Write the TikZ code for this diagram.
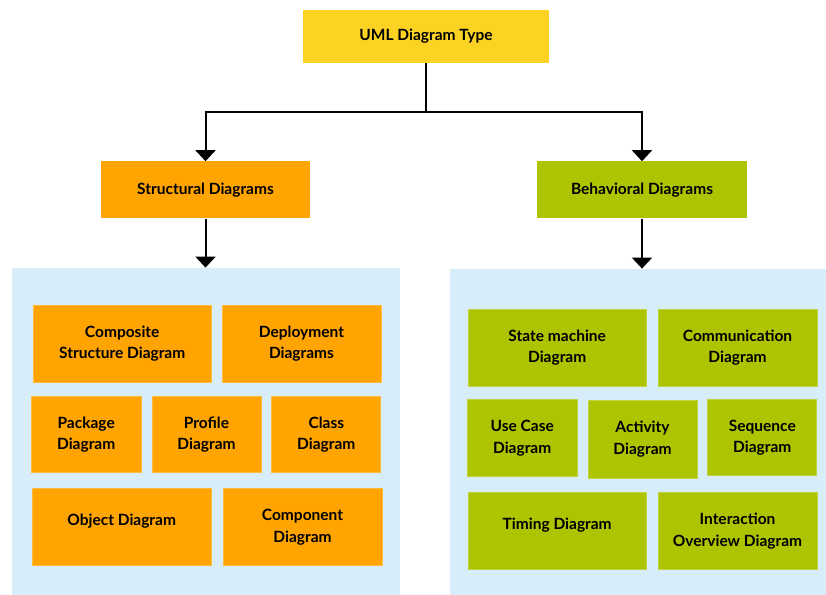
\documentclass[tikz,border=0pt]{standalone}
\usepackage{fontspec}
\setmainfont{Lato}
\usepackage{tikz}
\usetikzlibrary{positioning, arrows.meta}
\definecolor{tikzYellow}{HTML}{FCD322}
\definecolor{tikzOrange}{HTML}{FFA400}
\definecolor{tikzLime}{HTML}{AEC400}
\definecolor{tikzPaleBlue}{HTML}{D7EDF9}
\tikzstyle{diagbox} =[align=center, inner sep=0pt, font=\fontsize{15.5}{21.5}\selectfont\bfseries, text=black]
\tikzstyle{structbox} =[diagbox, fill=tikzOrange, draw=tikzOrange!75!white, line width=0.8pt, minimum height=77pt]
\tikzstyle{behavbox} =[diagbox, fill=tikzLime, draw=tikzLime!75!white, line width=0.8pt, minimum height=77pt]
\tikzstyle{panel} =[fill=tikzPaleBlue, inner sep=0pt]
\tikzstyle{lifted} =[text depth=14pt]

\begin{document}
\begin{tikzpicture}
\useasboundingbox (0pt,0pt) rectangle (826pt,-594pt);

\node (umlType) [diagbox, fill=tikzYellow, minimum width=246pt, minimum height=53pt] at (426pt,-36.5pt) {UML Diagram Type};

\node (structural) [diagbox, fill=tikzOrange, minimum width=209pt, minimum height=57pt, below=98pt of umlType, xshift=-220.5pt] {Structural Diagrams};
\node (behavioral) [diagbox, fill=tikzLime, minimum width=210pt, minimum height=57pt, below=98pt of umlType, xshift=216pt] {Behavioral Diagrams};

\node (structPanel) [panel, minimum width=388pt, minimum height=327pt, below=49pt of structural, xshift=0.5pt] {};
\node (behavPanel) [panel, minimum width=376pt, minimum height=326pt, below=50pt of behavioral, xshift=-4pt] {};

\draw[-{Triangle[width=20pt,length=11pt]}, line width=2pt, black]
	(umlType.south) -- ++(0pt,-49pt) -| (structural.north);
\draw[-{Triangle[width=20pt,length=11pt]}, line width=2pt, black]
	(umlType.south) -- ++(0pt,-49pt) -| (behavioral.north);

\draw[-{Triangle[width=20pt,length=11pt]}, line width=2pt, black]
	(structural) -- (structPanel.north -| structural);
\draw[-{Triangle[width=20pt,length=11pt]}, line width=2pt, black]
	(behavioral) -- (behavPanel.north -| behavioral);

% structural diagrams
\node (composite) [structbox, minimum width=178pt, below right=37pt and 21pt of structPanel.north west] {Composite\\Structure Diagram};
\node (deployment) [structbox, minimum width=159pt, right=10pt of composite] {Deployment\\Diagrams};
\node (package) [structbox, minimum width=110pt, minimum height=76pt, below right=14pt and -2pt of composite.south west] {Package\\Diagram};
\node (profile) [structbox, minimum width=109pt, minimum height=76pt, right=10pt of package] {Profile\\Diagram};
\node (class) [structbox, minimum width=109pt, minimum height=76pt, right=10pt of profile] {Class\\Diagram};
\node (object) [structbox, lifted, minimum width=179pt, below right=15pt and 1pt of package.south west] {Object Diagram};
\node (component) [structbox, minimum width=159pt, right=11pt of object] {Component\\Diagram};

% behavioral diagrams
\node (stateMachine) [behavbox, minimum width=178pt, below right=40pt and 18pt of behavPanel.north west] {State machine\\Diagram};
\node (communication) [behavbox, minimum width=159pt, right=11pt of stateMachine] {Communication\\Diagram};
\node (useCase) [behavbox, minimum width=110pt, below right=13pt and -1pt of stateMachine.south west] {Use Case\\Diagram};
\node (activity) [behavbox, minimum width=109pt, minimum height=78pt, right=10pt of useCase, yshift=-1pt] {Activity\\Diagram};
\node (sequence) [behavbox, minimum width=109pt, minimum height=76pt, right=10pt of activity, yshift=1.5pt] {Sequence\\Diagram};
\node (timing) [behavbox, lifted, minimum width=178pt, below right=15pt and 1pt of useCase.south west] {Timing Diagram};
\node (interaction) [behavbox, minimum width=159pt, right=11pt of timing] {Interaction\\Overview Diagram};

\end{tikzpicture}
\end{document}
